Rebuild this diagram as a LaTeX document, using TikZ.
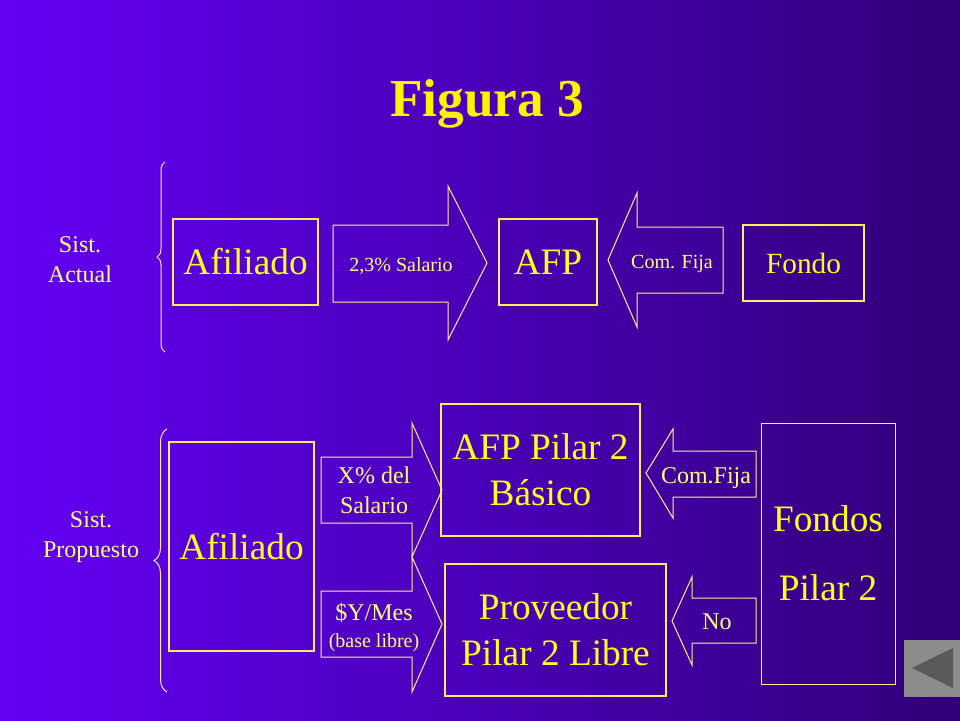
\documentclass[tikz,border=0pt]{standalone}
\usepackage{fontspec}
\setmainfont{Liberation Serif}
\usetikzlibrary{decorations.pathreplacing}
\definecolor{bgleft}{RGB}{100,0,245}
\definecolor{bgright}{RGB}{48,0,120}
\definecolor{gold}{RGB}{255,255,30}
\definecolor{pale}{RGB}{255,255,125}
\definecolor{edge}{RGB}{255,236,100}
\definecolor{thinedge}{RGB}{255,238,140}
\definecolor{btngray}{RGB}{140,140,140}
\definecolor{btndark}{RGB}{90,90,90}
\tikzset{box/.style={draw=edge,line width=2pt,text=gold,align=center,inner sep=0pt,font=\fontsize{37.3}{46}\selectfont},
         thinbox/.style={box,draw=thinedge,line width=1pt},
         blockarrow/.style={draw=thinedge,line width=1pt,line join=miter},
         tag/.style={text=pale,align=center,inner sep=0pt,font=\fontsize{24}{30}\selectfont},
         smalltag/.style={tag,font=\fontsize{20}{24}\selectfont},
         bracket/.style={draw=thinedge,line width=1pt,decorate,decoration={brace,amplitude=#1}}}

\begin{document}
\begin{tikzpicture}[x=1pt,y=-1pt]
                  \useasboundingbox (0,0) rectangle (960,720);
                  \shade[left color=bgleft,right color=bgright] (0,0) rectangle (960,720);
                  \node[text=yellow,inner sep=0pt,anchor=base,font=\fontsize{53.3}{60}\selectfont\bfseries] (title) at (487,116) {Figura 3};

                  \node[tag] (sistact) at (80,260) {Sist.\\Actual};
                  \draw[bracket=8pt] (165,352) -- (165,162);
                  \node[box,minimum width=145pt,minimum height=86pt] (afil) at (245.5,262) {Afiliado};
                  \draw[blockarrow] (333,225) -- (448,225) -- (448,186) -- (487,263) -- (448,340) -- (448,302) -- (333,302) -- cycle;
                  \node[smalltag,anchor=base] (salario) at (401,271) {2,3\% Salario};
                  \node[box,minimum width=98pt,minimum height=86pt] (afp) at (548,262) {AFP};
                  \draw[blockarrow] (723,227) -- (637,227) -- (637,193) -- (608,260) -- (637,327) -- (637,293) -- (723,293) -- cycle;
                  \node[smalltag,anchor=base] (comfija) at (672,268) {Com. Fija};
                  \node[box,minimum width=121pt,minimum height=76pt,font=\fontsize{29.3}{34}\selectfont] (fondo) at (803.5,263) {Fondo};

                  \node[tag] (sistprop) at (91,537) {Sist.\\Propuesto};
                  \draw[bracket=13pt] (167,692) -- (167,429);
                  \node[box,minimum width=145pt,minimum height=209pt] (afilp) at (241.5,546.5) {Afiliado};
                  \draw[blockarrow] (321,457) -- (412,457) -- (412,423) -- (442,490) -- (412,557) -- (412,523) -- (321,523) -- cycle;
                  \node[tag] (xsal) at (374,490) {X\% del\\Salario};
                  \draw[blockarrow] (321,591) -- (412,591) -- (412,557) -- (442,624) -- (412,692) -- (412,657) -- (321,657) -- cycle;
                  \node[tag,anchor=base] (ymes) at (374,620) {\$Y/Mes};
                  \node[smalltag,anchor=base] (libre) at (374,647) {(base libre)};
                  \node[box,minimum width=199pt,minimum height=132pt] (afpbas) at (540.5,470) {AFP Pilar 2\\Básico};
                  \node[box,minimum width=221pt,minimum height=132pt] (prov) at (555.5,630) {Proveedor\\Pilar 2 Libre};
                  \draw[blockarrow] (756,451) -- (673,451) -- (673,429) -- (646,473) -- (673,518) -- (673,497) -- (756,497) -- cycle;
                  \node[tag,anchor=base] (comfijap) at (706,483) {Com.Fija};
                  \draw[blockarrow] (756,598) -- (692,598) -- (692,577) -- (672,621) -- (692,665) -- (692,643) -- (756,643) -- cycle;
                  \node[tag,anchor=base] (no) at (717,629) {No};
                  \node[thinbox,minimum width=134pt,minimum height=261pt,font=\fontsize{37.3}{69}\selectfont] (fondos) at (828,553.5) {Fondos\\Pilar 2};

                  \fill[btngray] (904,640) rectangle (960,697);
                  \fill[btndark] (912,668) -- (953,648) -- (953,688) -- cycle;
              \end{tikzpicture}
\end{document}
